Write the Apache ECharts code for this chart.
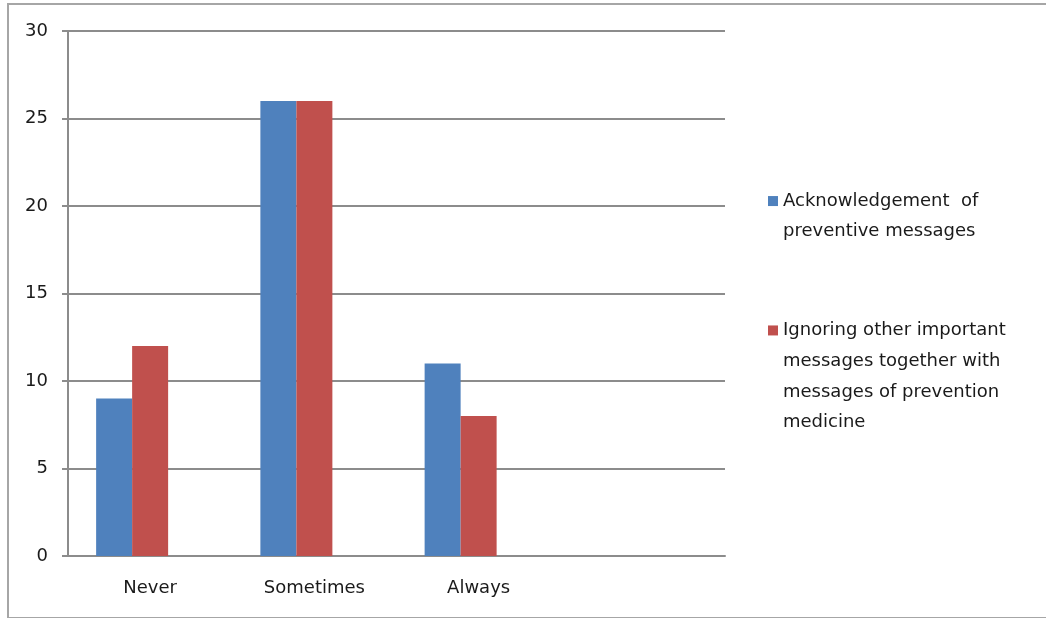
<!DOCTYPE html>
<html>
<head>
<meta charset="utf-8">
<script src="https://cdn.jsdelivr.net/npm/echarts@6/dist/echarts.min.js"></script>
<style>
html,body{margin:0;padding:0;background:#fff;}
#wrap{position:relative;width:1046px;height:618px;overflow:hidden;}
#frame{position:absolute;left:7px;top:3px;width:1060px;height:612px;border:2px solid #a6a6a6;}
#chart{position:absolute;left:0;top:0;width:1046px;height:618px;}
</style>
</head>
<body>
<div id="wrap">
<div id="frame"></div>
<div id="chart"></div>
</div>
<script>
var categories = ['Never', 'Sometimes', 'Always', ''];
var acknowledgement = [9, 26, 11, null];
var ignoring = [12, 26, 8, null];
var unused = [null, null, null, null]; // empty third series, keeps the bar cluster offset
var yTicks = [0, 5, 10, 15, 20, 25, 30];

var name1 = 'Acknowledgement  of\npreventive messages';
var name2 = 'Ignoring other important\nmessages together with\nmessages of prevention\nmedicine';

var font = 'DejaVu Sans';
var chart = echarts.init(document.getElementById('chart'));

// put blank lines above so the marker sits next to the first line
function topAligned(name) {
	var n = name.split('\n').length;
	var pad = '';
	for (var i = 1; i < n; i++) pad += ' \n';
	return pad + name;
}

var legendText = {fontFamily: font, fontSize: 18, color: '#1a1a1a', lineHeight: 30.7};

var option = {
	animation: false,
	textStyle: {fontFamily: font},
	grid: {left: 68, right: 321, top: 31, bottom: 62},
	legend: [{
		data: [name1],
		left: 768, top: 155, padding: 0,
		itemWidth: 10, itemHeight: 10,
		icon: 'rect',
		formatter: topAligned,
		textStyle: legendText
	}, {
		data: [name2],
		left: 768, top: 223, padding: 0,
		itemWidth: 10, itemHeight: 10,
		icon: 'rect',
		formatter: topAligned,
		textStyle: legendText
	}],
	xAxis: {
		type: 'category',
		data: categories,
		axisLine: {lineStyle: {color: '#8c8c8c', width: 2}},
		axisTick: {length: 6, lineStyle: {color: '#8c8c8c', width: 2}},
		axisLabel: {color: '#1a1a1a', fontSize: 18, margin: 23, fontFamily: font}
	},
	yAxis: {
		type: 'value',
		min: yTicks[0], max: yTicks[yTicks.length - 1], interval: 5,
		axisLine: {show: true, lineStyle: {color: '#8c8c8c', width: 2}},
		axisTick: {show: true, length: 6, lineStyle: {color: '#8c8c8c', width: 2}},
		axisLabel: {color: '#1a1a1a', fontSize: 18, margin: 20, fontFamily: font},
		splitLine: {lineStyle: {color: '#8c8c8c', width: 2}}
	},
	series: [{
		name: name1, type: 'bar', data: acknowledgement,
		barWidth: 36, barGap: '0%',
		itemStyle: {color: '#4f81bd'}
	}, {
		name: name2, type: 'bar', data: ignoring,
		barWidth: 36, barGap: '0%',
		itemStyle: {color: '#c0504d'}
	}, {
		name: 'unused', type: 'bar', data: unused,
		barWidth: 36, barGap: '0%',
		itemStyle: {color: '#9bbb59'}
	}]
};
chart.setOption(option);
</script>
</body>
</html>
